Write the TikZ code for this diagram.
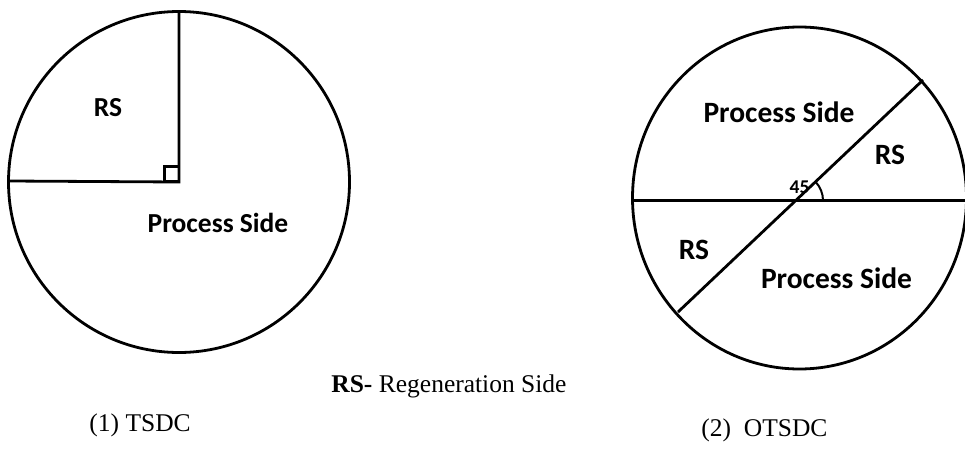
\documentclass[tikz,border=0pt]{standalone}
\usepackage{fontspec}
\setmainfont{Liberation Serif}
\newfontfamily\carl{Carlito}
\begin{document}
\begin{tikzpicture}[x=1pt,y=-1pt,line width=2.8pt,
  lbl/.style={font=\carl\bfseries\fontsize{27.5}{28}\selectfont,inner sep=0pt,anchor=base},
  lblb/.style={font=\carl\bfseries\fontsize{29.5}{30}\selectfont,inner sep=0pt,anchor=base},
  capt/.style={font=\fontsize{25.5}{26}\selectfont,inner sep=0pt,anchor=base west}]
\useasboundingbox (0,0) rectangle (965,452);
% left circle (TSDC)
\coordinate (c1) at (179,182);
\coordinate (t1) at (179,11.5);
\coordinate (l1) at (9,181);
\draw (c1) circle[radius=170.5pt];
\draw (t1) -- (c1) -- (l1);
\draw[line width=2.4pt] (164.5,181) rectangle (179,166.5);
\node[lbl] (rsA) at (108,116.5) {RS};
\node[lbl] (psA) at (218,232) {Process Side};
% right circle (OTSDC)
\coordinate (c2) at (799.5,198);
\coordinate (hl) at (632.5,200.5);
\coordinate (hr) at (966,200.5);
\coordinate (ix) at (796,200.5);
\coordinate (du) at (923,80);
\coordinate (dl) at (678,312);
\draw (c2) ellipse[x radius=167pt,y radius=171pt];
\draw (hl) -- (hr);
\draw (dl) -- (du);
\draw[line width=2pt] ([shift={(27,0)}]ix) arc[start angle=0,end angle=44,radius=27pt];
\node[lblb] (psB) at (779,122) {Process Side};
\node[lblb] (psC) at (836.5,288.5) {Process Side};
\node[lblb] (rsB) at (890,164.5) {RS};
\node[lblb] (rsC) at (694,259.5) {RS};
\node[font=\carl\bfseries\fontsize{19.5}{20}\selectfont,inner sep=0pt,anchor=base] (ang) at (799.5,193.5) {45};
% captions
\node[capt] (legend) at (330,392) {\textbf{RS-} Regeneration Side};
\node[capt] (capA) at (88,431) {(1) TSDC};
\node[capt] (capB) at (700,436) {(2)\ \ OTSDC};
\end{tikzpicture}
\end{document}
